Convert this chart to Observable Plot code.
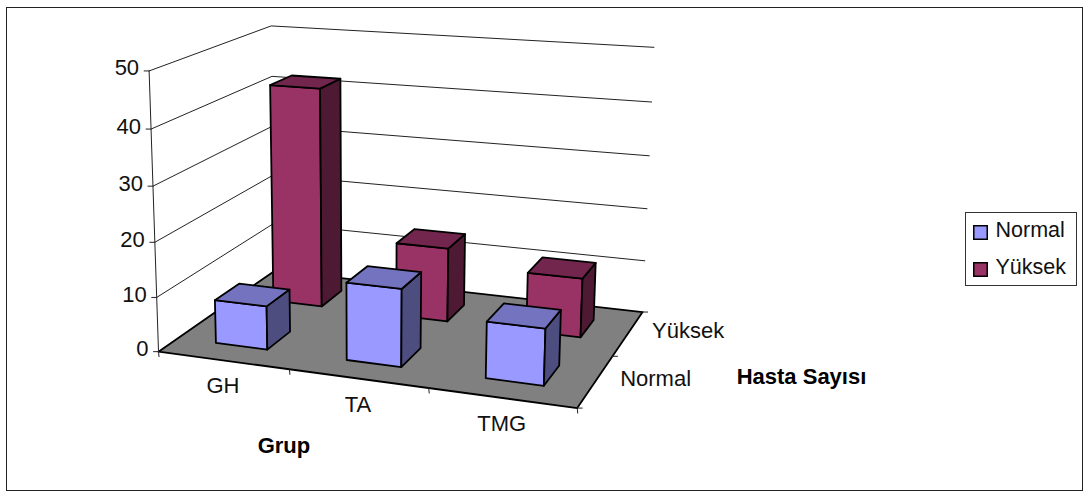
<!DOCTYPE html>
<html>
<head>
<meta charset="utf-8">
<script src="https://cdn.jsdelivr.net/npm/d3@7"></script>
<script src="https://cdn.jsdelivr.net/npm/@observablehq/plot@0.6"></script>
<style>
  html, body { margin: 0; padding: 0; background: #fff; }
  #page { position: relative; width: 1086px; height: 492px; overflow: hidden; font-family: "Liberation Sans", Arial, sans-serif; }
  #frame { position: absolute; left: 6px; top: 7px; width: 1075px; height: 482px; border: 1.5px solid #222; box-sizing: content-box; }
  #chart { position: absolute; left: 0; top: 0; }
  #legend { position: absolute; left: 965px; top: 212px; width: 112px; height: 74px; border: 1px solid #333; box-sizing: border-box; background: #fff; }
</style>
</head>
<body>
<div id="page"><div id="frame"></div><div id="chart"></div><div id="legend"></div></div>
<script>
// Patient counts per group, split by level
const groups = ["GH", "TA", "TMG"];
const levels = ["Normal", "Yüksek"];
const normalCounts = [8, 14, 10];
const yuksekCounts = [42, 14, 11];
const valueTicks = [0, 10, 20, 30, 40, 50];
const groupTitle = "Grup";
const levelTitle = "Hasta Sayısı";

const valueMax = 50;
const barInset = 0.3;   // gap on each side of a column, in category units

const palette = {
  Normal: {front: "#9999ff", top: "#7373bf", side: "#4d4d80"},
  "Yüksek": {front: "#993366", top: "#73264d", side: "#4d1933"}
};

// Perspective camera for the 3-D box: a 3x4 projective matrix fitted by least
// squares to where the box's edges sit on the page (group, level, value -> px).
const anchors = [
  [0, 0, 0, 160, 351], [1, 0, 0, 288, 370], [2, 0, 0, 428, 388], [3, 0, 0, 576, 408],
  [3, 1, 0, 613, 355], [3, 2, 0, 642, 310], [0, 2, 0, 272, 271],
  [0, 0, 50, 147, 70], [0, 0, 10, 157, 296], [0, 2, 50, 271, 26], [0, 2, 40, 273, 75],
  [3, 2, 50, 653, 47], [3, 2, 40, 651, 102], [3, 2, 10, 645, 261]
];

function solve(A, b) {
  const n = b.length;
  const m = A.map((row, i) => [...row, b[i]]);
  for (let c = 0; c < n; c++) {
    let p = c;
    for (let r = c + 1; r < n; r++) if (Math.abs(m[r][c]) > Math.abs(m[p][c])) p = r;
    [m[c], m[p]] = [m[p], m[c]];
    for (let r = 0; r < n; r++) {
      if (r === c) continue;
      const f = m[r][c] / m[c][c];
      for (let k = c; k <= n; k++) m[r][k] -= f * m[c][k];
    }
  }
  return m.map((row, i) => row[n] / row[i]);
}

const unit = (g, s, v) => [g / 3, s / 2, v / valueMax];
const camera = (() => {
  const rows = [], rhs = [];
  for (const [g, s, v, px, py] of anchors) {
    const [a, b, c] = unit(g, s, v);
    const u = px / 1000, w = py / 1000;
    rows.push([a, b, c, 1, 0, 0, 0, 0, -u * a, -u * b, -u * c]); rhs.push(u);
    rows.push([0, 0, 0, 0, a, b, c, 1, -w * a, -w * b, -w * c]); rhs.push(w);
  }
  const n = 11;
  const AtA = d3.range(n).map(i => d3.range(n).map(j => d3.sum(rows, r => r[i] * r[j])));
  const Atb = d3.range(n).map(i => d3.sum(rows, (r, k) => r[i] * rhs[k]));
  return solve(AtA, Atb);
})();

function project(g, s, v) {
  const [a, b, c] = unit(g, s, v);
  const p = camera;
  const w = p[8] * a + p[9] * b + p[10] * c + 1;
  return [1000 * (p[0] * a + p[1] * b + p[2] * c + p[3]) / w,
          1000 * (p[4] * a + p[5] * b + p[6] * c + p[7]) / w];
}

// Each polygon becomes a run of vertices sharing one id
const polygons = [];
function polygon(corners, fill) {
  const id = polygons.length;
  polygons.push(...corners.map(([g, s, v]) => {
    const [x, y] = project(g, s, v);
    return {id, x, y, fill};
  }));
}

const floorW = groups.length, floorD = levels.length;
polygon([[0, 0, 0], [floorW, 0, 0], [floorW, floorD, 0], [0, floorD, 0]], "#808080");

// Far row first so the near columns overlap it
const counts = {Normal: normalCounts, "Yüksek": yuksekCounts};
[...levels].reverse().forEach(level => {
  const j = levels.indexOf(level);
  groups.forEach((_, i) => {
    const v = counts[level][i];
    const g0 = i + barInset, g1 = i + 1 - barInset;
    const s0 = j + barInset, s1 = j + 1 - barInset;
    const c = palette[level];
    polygon([[g0, s0, 0], [g1, s0, 0], [g1, s0, v], [g0, s0, v]], c.front);
    polygon([[g1, s0, 0], [g1, s1, 0], [g1, s1, v], [g1, s0, v]], c.side);
    polygon([[g0, s0, v], [g1, s0, v], [g1, s1, v], [g0, s1, v]], c.top);
  });
});

// Grid lines: up the near-left edge's values, to the far corner, along the back wall
const gridRows = valueTicks.filter(v => v > 0).flatMap(v =>
  [[0, 0, v], [0, floorD, v], [floorW, floorD, v]].map(([g, s, val]) => {
    const [x, y] = project(g, s, val);
    return {v, x, y};
  }));

const seg = (a, b, key) => [a, b].map(([x, y]) => ({key, x, y}));
const valueAxis = seg(project(0, 0, 0), project(0, 0, valueMax), "axis");
const valueTickLines = valueTicks.flatMap(v => {
  const [x, y] = project(0, 0, v);
  return seg([x, y], [x - 5, y], "v" + v);
});
const groupTickLines = d3.range(floorW + 1).flatMap(i => {
  const [x, y] = project(i, 0, 0);
  return seg([x, y], [x + 0.5, y + 5], "g" + i);
});
const levelTickLines = d3.range(floorD + 1).flatMap(i => {
  const [x, y] = project(floorW, i, 0);
  return seg([x, y], [x + 5, y], "l" + i);
});

const at = (g, s, v) => {
  const [x, y] = project(g, s, v);
  return {x, y};
};
const valueLabels = valueTicks.map(v => ({text: String(v), ...at(0, 0, v)}));
const groupLabels = groups.map((text, i) => ({text, ...at(i + 0.5, 0, 0)}));
const levelLabels = levels.map((text, j) => ({text, ...at(floorW, j + 0.5, 0)}));
const groupName = [{text: groupTitle, ...at(1.5, 0, 0)}];
const levelName = [{text: levelTitle, ...at(floorW, 1, 0)}];

const labelFont = {fontSize: 22, fill: "#111"};
const titleFont = {fontSize: 22, fontWeight: "bold", fill: "#000"};

const chart = Plot.plot({
  width: 1086,
  height: 492,
  margin: 0,
  x: {type: "linear", domain: [0, 1086], range: [0, 1086], axis: null},
  y: {type: "linear", domain: [0, 492], range: [0, 492], axis: null},
  style: {background: "transparent", fontFamily: "'Liberation Sans', Arial, sans-serif"},
  marks: [
    Plot.line(gridRows, {x: "x", y: "y", z: "v", stroke: "#222", strokeWidth: 1}),
    Plot.line(polygons, {x: "x", y: "y", z: "id", fill: "fill", stroke: "#000", strokeWidth: 1.8, curve: "linear-closed"}),
    Plot.line(valueAxis, {x: "x", y: "y", z: "key", stroke: "#222", strokeWidth: 1}),
    Plot.line([...valueTickLines, ...groupTickLines, ...levelTickLines], {x: "x", y: "y", z: "key", stroke: "#222", strokeWidth: 1}),
    Plot.text(valueLabels, {x: "x", y: "y", text: "text", textAnchor: "end", dx: -10, dy: -2.5, ...labelFont}),
    Plot.text(groupLabels, {x: "x", y: "y", text: "text", dy: 26, ...labelFont}),
    Plot.text(levelLabels, {x: "x", y: "y", text: "text", dx: 60, dy: -2, ...labelFont}),
    Plot.text(groupName, {x: "x", y: "y", text: "text", dx: -74, dy: 67, ...titleFont}),
    Plot.text(levelName, {x: "x", y: "y", text: "text", dx: 189, dy: 21, ...titleFont})
  ]
});
document.getElementById("chart").append(chart);

// Level key
const key = Plot.plot({
  width: 110,
  height: 72,
  margin: 0,
  x: {type: "linear", domain: [0, 110], range: [0, 110], axis: null},
  y: {type: "point", domain: levels, range: [19, 56], padding: 0, axis: null},
  color: {domain: levels, range: levels.map(l => palette[l].front)},
  style: {background: "transparent", fontFamily: "'Liberation Sans', Arial, sans-serif"},
  marks: [
    Plot.dot(levels, {y: d => d, frameAnchor: "left", dx: 14, symbol: "square", r: 7.6, fill: d => d, stroke: "#000", strokeWidth: 1.5}),
    Plot.text(levels, {y: d => d, text: d => d, frameAnchor: "left", dx: 29, dy: -2, textAnchor: "start", fontSize: 21.5, fill: "#111"})
  ]
});
document.getElementById("legend").append(key);
</script>
</body>
</html>
